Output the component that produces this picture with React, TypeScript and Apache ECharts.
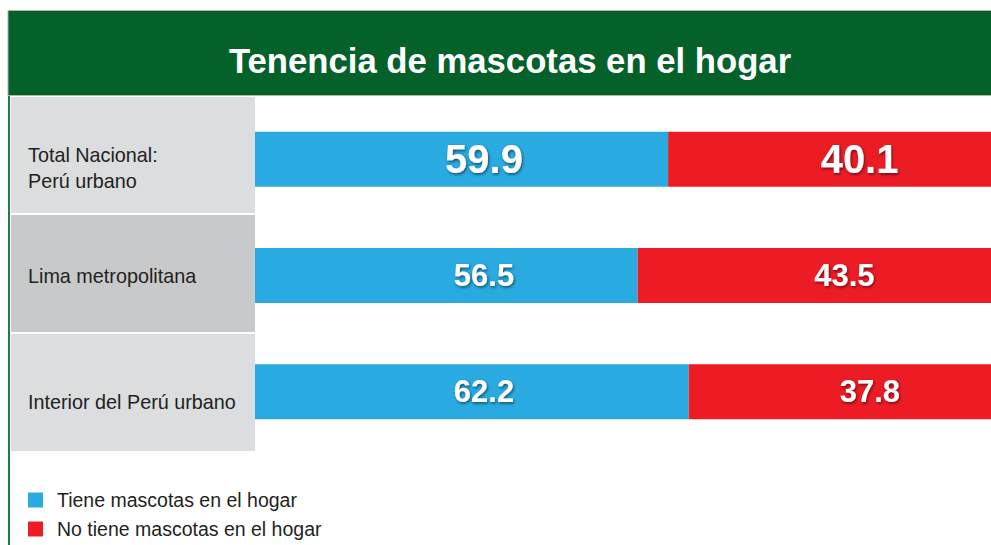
import React, { useEffect, useRef } from "react";
import * as echarts from "echarts";

const chartTitle = "Tenencia de mascotas en el hogar";
const categories = ["Total Nacional:\nPerú urbano", "Lima metropolitana", "Interior del Perú urbano"];
const seriesNames = ["Tiene mascotas en el hogar", "No tiene mascotas en el hogar"];
const tieneValues = [59.9, 56.5, 62.2];
const noTieneValues = [40.1, 43.5, 37.8];

const FONT = "'Liberation Sans', Arial, Helvetica, sans-serif";
const BLUE = "#29abe2";
const RED = "#ed1c24";
const TEXT = "#231f20";

const shadow = {
  textShadowColor: "rgba(0,0,0,0.55)",
  textShadowBlur: 3,
  textShadowOffsetX: 1,
  textShadowOffsetY: 1.5,
};

const valueRich = {
  big: { color: "#fff", fontSize: 40, fontWeight: "bold", fontFamily: FONT, ...shadow },
  n: { color: "#fff", fontSize: 31, fontWeight: "bold", fontFamily: FONT, ...shadow },
};

const valueFormatter = (p: any) => (p.dataIndex === 0 ? `{big|${p.value}}` : `{n|${p.value}}`);

export default function App() {
  const ref = useRef<HTMLDivElement>(null);

  useEffect(() => {
    if (!ref.current) return;
    const chart = echarts.init(ref.current, null, { renderer: "svg" });
    const option: any = {
      animation: false,
      backgroundColor: "#ffffff",
      grid: {
        left: 132,
        top: 101,
        width: 895,
        height: 349,
        containLabel: false,
        outerBoundsMode: "none",
      },
      xAxis: { type: "value", min: 0, max: 100, show: false },
      yAxis: {
        type: "category",
        data: categories,
        inverse: true,
        z: 10,
        axisLine: { show: false },
        axisTick: { show: false },
        splitLine: { show: false },
        axisLabel: {
          margin: 104,
          align: "left",
          color: TEXT,
          fontSize: 19.8,
          fontFamily: FONT,
          lineHeight: 26,
          formatter: (value: string, index: number) => {
            const lines = value.split("\n").map((l) => `{b|${l}}`);
            if (index === 0) return ["{s0| }", ...lines].join("\n");
            if (index === 2) return ["{s2| }", ...lines].join("\n");
            return lines.join("\n");
          },
          rich: {
            b: { color: TEXT, fontSize: 19.8, fontFamily: FONT, lineHeight: 26 },
            s0: { fontSize: 10, lineHeight: 17 },
            s2: { fontSize: 10, lineHeight: 20 },
          },
        },
      },
      legend: {
        data: seriesNames,
        orient: "vertical",
        left: 28,
        top: 490,
        padding: 0,
        icon: "rect",
        itemWidth: 15,
        itemHeight: 15,
        itemGap: 9,
        selectedMode: false,
        textStyle: {
          color: TEXT,
          fontSize: 19.5,
          fontFamily: FONT,
          lineHeight: 20,
          padding: [0, 0, 0, 9],
        },
      },
      series: [
        {
          type: "bar",
          name: seriesNames[0],
          stack: "total",
          data: tieneValues,
          barWidth: 55,
          itemStyle: { color: BLUE },
          label: {
            show: true,
            position: [352, "50%"],
            align: "center",
            verticalAlign: "middle",
            formatter: valueFormatter,
            rich: valueRich,
          },
        },
        {
          type: "bar",
          name: seriesNames[1],
          stack: "total",
          data: noTieneValues,
          barWidth: 55,
          itemStyle: { color: RED },
          label: {
            show: true,
            position: "inside",
            offset: [12, 0],
            formatter: valueFormatter,
            rich: valueRich,
          },
        },
      ],
      graphic: {
        elements: [
          {
            type: "rect",
            z: 5,
            shape: { x: 8, y: 10.5, width: 990, height: 85 },
            style: { fill: "#05612a", stroke: "#b8b39c", lineWidth: 1 },
          },
          {
            type: "text",
            z: 6,
            x: 510,
            y: 61,
            style: {
              text: chartTitle,
              fill: "#ffffff",
              fontSize: 34.7,
              fontWeight: "bold",
              fontFamily: FONT,
              align: "center",
              verticalAlign: "middle",
            },
          },
          {
            type: "rect",
            z: 5,
            shape: { x: 8, y: 96, width: 2, height: 449 },
            style: { fill: "#2a7a3b" },
          },
          {
            type: "rect",
            z: 5,
            shape: { x: 11, y: 97, width: 244, height: 116 },
            style: { fill: "#dcdddf" },
          },
          {
            type: "rect",
            z: 5,
            shape: { x: 11, y: 215, width: 244, height: 117 },
            style: { fill: "#c8c9cb" },
          },
          {
            type: "rect",
            z: 5,
            shape: { x: 11, y: 334, width: 244, height: 117 },
            style: { fill: "#dcdddf" },
          },
        ],
      },
    };
    chart.setOption(option);
    return () => chart.dispose();
  }, []);

  return (
    <div
      ref={ref}
      style={{ position: "absolute", left: 0, top: 0, width: 991, height: 545 }}
    />
  );
}
